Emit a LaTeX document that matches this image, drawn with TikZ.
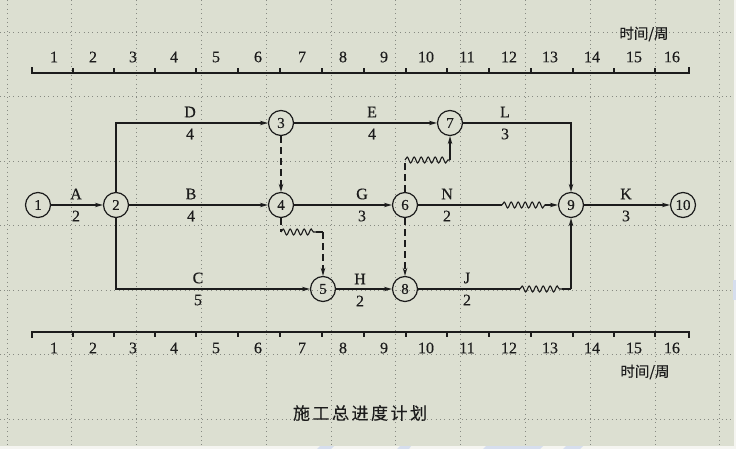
\documentclass[tikz,border=0pt]{standalone}
\usepackage{fontspec}
\setmainfont{Liberation Serif}[FakeBold=0.35]
\newfontfamily\cjk{Noto Sans CJK SC}[FakeBold=0.3]
\usetikzlibrary{arrows.meta,decorations.pathmorphing}
\definecolor{bg}{RGB}{220,223,209}
\definecolor{gridc}{RGB}{135,138,130}
\definecolor{ink}{RGB}{28,28,28}
\definecolor{wm}{RGB}{214,222,238}
\begin{document}
\begin{tikzpicture}[x=1pt,y=-1pt,
  griddot/.style={gridc,line width=0.8pt,dash pattern=on 0.8pt off 3.6pt},
  scaleline/.style={ink,line width=1.3pt},
  scalenum/.style={ink,inner sep=0pt,font=\fontsize{16}{16}\selectfont},
  unitlbl/.style={ink,inner sep=0pt,font=\cjk\fontsize{14.5}{14.5}\selectfont},
  evt/.style={circle,draw=ink,line width=1.2pt,minimum size=25pt,inner sep=0pt,text=ink,font=\fontsize{15}{15}\selectfont},
  lbl/.style={ink,inner sep=0pt,font=\fontsize{16}{16}\selectfont},
  edge/.style={ink,line width=1.2pt},
  arr/.style={-{Stealth[length=8pt,width=4.5pt]}},
  dashline/.style={ink,line width=1.3pt,dash pattern=on 7pt off 4pt},
  wavy/.style={ink,line width=1.1pt,decorate,decoration={snake,segment length=7pt,amplitude=3pt}}
]
\useasboundingbox (0,0) rectangle (736,449);
\fill[bg] (0,0) rectangle (736,449);
% watermark traces
\fill[white!70!bg] (0,446) rectangle (736,449);
\fill[wm] (317,449) -- (320,446) -- (334,446) -- (331,449) -- cycle;
\fill[wm] (397,449) -- (400,446) -- (411,446) -- (409,449) -- cycle;
\fill[wm] (483,449) -- (486,446) -- (543,446) -- (540,449) -- cycle;
\fill[wm] (563,449) -- (566,446) -- (583,446) -- (580,449) -- cycle;
\fill[white!70!bg] (734,0) rectangle (736,449);
\fill[wm] (733,280) rectangle (736,300);
% grid
\foreach \k in {0,...,11} \draw[griddot] ({7+64.8*\k},0) -- ({7+64.8*\k},446);
\foreach \k in {0,...,6} \draw[griddot] (0,{32+64.5*\k}) -- (734,{32+64.5*\k});
% top scale
\draw[scaleline] (32,67.5) -- (32,73) -- (689,73) -- (689,67.5);
\foreach \t in {73,114,155,196,238,280,322,364,406,447,489,531,573,614,655}
  \draw[scaleline] (\t,73) -- (\t,68);
\foreach \x [count=\i] in {54,93,133,174,216,258,302,343,384,426,467,509,550,592,634,672}
  \node[scalenum] (t\i) at (\x,57) {\i};
\node[unitlbl] (tunit) at (644,34) {时间/周};
% bottom scale
\draw[scaleline] (32,337.5) -- (32,332) -- (689,332) -- (689,337.5);
\foreach \t in {73,114,155,196,238,280,322,364,406,447,489,531,573,614,655}
  \draw[scaleline] (\t,332) -- (\t,337);
\foreach \x [count=\i] in {54,93,133,174,216,258,302,343,384,426,467,509,550,592,634,672}
  \node[scalenum] (b\i) at (\x,348) {\i};
\node[unitlbl] (bunit) at (645,372) {时间/周};
% title
\node[ink,inner sep=0pt,font=\cjk\fontsize{17}{17}\selectfont] (title) at (360,413)
  {施\hspace{2.5pt}工\hspace{2.5pt}总\hspace{2.5pt}进\hspace{2.5pt}度\hspace{2.5pt}计\hspace{2.5pt}划};
% events
\node[evt] (n1) at (38,205) {1};
\node[evt] (n2) at (116,205) {2};
\node[evt] (n3) at (281,123) {3};
\node[evt] (n4) at (281,205) {4};
\node[evt] (n5) at (323,289) {5};
\node[evt] (n6) at (405,205) {6};
\node[evt] (n7) at (450,123) {7};
\node[evt] (n8) at (405,289) {8};
\node[evt] (n9) at (571,205) {9};
\node[evt] (n10) at (683,205) {10};
% helper coordinates
\coordinate (c45a) at (281,232);
\coordinate (c45b) at (316,232);
\coordinate (c45c) at (323,232);
\coordinate (c67a) at (405,160);
\coordinate (c67b) at (450,160);
\coordinate (c69a) at (502,205);
\coordinate (c69b) at (545,205);
\coordinate (c89a) at (520,289);
\coordinate (c89b) at (562,289);
\coordinate (c89c) at (571,289);
% activities
\draw[edge,arr] (n1) -- (n2);
\draw[edge,arr] (n2) |- (n3);
\draw[edge,arr] (n2) -- (n4);
\draw[edge,arr] (n2) |- (n5);
\draw[dashline,arr] (n3) -- (n4);
\draw[edge,arr] (n3) -- (n7);
\draw[edge,arr] (n4) -- (n6);
\draw[dashline] (n4.south) -- (c45a);
\draw[wavy] (c45a) -- (c45b);
\draw[edge] (c45b) -- (c45c);
\draw[dashline,arr] (c45c) -- (n5.north);
\draw[edge,arr] (n5) -- (n8);
\draw[dashline] (n6.north) -- (c67a);
\draw[wavy] (c67a) -- (c67b);
\draw[edge,arr] (c67b) -- (n7.south);
\draw[dashline,arr] (n6) -- (n8);
\draw[edge] (n6) -- (c69a);
\draw[wavy] (c69a) -- (c69b);
\draw[edge,arr] (c69b) -- (n9);
\draw[edge,arr] (n7) -| (n9);
\draw[edge] (n8) -- (c89a);
\draw[wavy] (c89a) -- (c89b);
\draw[edge] (c89b) -- (c89c);
\draw[edge,arr] (c89c) -- (n9.south);
\draw[edge,arr] (n9) -- (n10);
% labels
\node[lbl] (lA) at (76,194) {A};   \node[lbl] (dA) at (76,216) {2};
\node[lbl] (lD) at (190,112) {D};  \node[lbl] (dD) at (190,134) {4};
\node[lbl] (lB) at (191,194) {B};  \node[lbl] (dB) at (191,216) {4};
\node[lbl] (lC) at (198,278) {C};  \node[lbl] (dC) at (198,300) {5};
\node[lbl] (lE) at (372,112) {E};  \node[lbl] (dE) at (372,134) {4};
\node[lbl] (lG) at (362,194) {G};  \node[lbl] (dG) at (362,216) {3};
\node[lbl] (lL) at (505,112) {L};  \node[lbl] (dL) at (505,134) {3};
\node[lbl] (lN) at (447,194) {N};  \node[lbl] (dN) at (447,216) {2};
\node[lbl] (lK) at (626,194) {K};  \node[lbl] (dK) at (626,216) {3};
\node[lbl] (lH) at (360,279) {H};  \node[lbl] (dH) at (360,301) {2};
\node[lbl] (lJ) at (467,278) {J};  \node[lbl] (dJ) at (467,300) {2};
\end{tikzpicture}
\end{document}
